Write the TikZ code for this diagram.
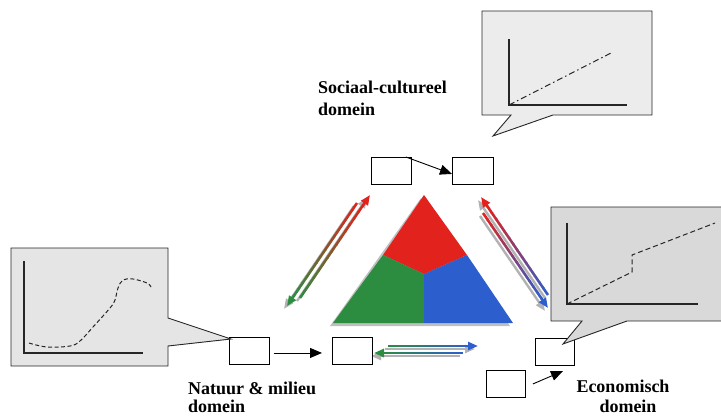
\documentclass[tikz,border=0pt]{standalone}
\usepackage{fontspec}
\setmainfont{Liberation Serif}
\usetikzlibrary{arrows.meta,calc}

\definecolor{trired}{RGB}{226,34,28}
\definecolor{trigreen}{RGB}{44,140,64}
\definecolor{triblue}{RGB}{44,94,206}
\definecolor{bubblelight}{gray}{0.925}
\definecolor{bubblemid}{gray}{0.90}
\definecolor{bubbledark}{gray}{0.85}

% arrow whose shaft fades from colour #3 to colour #4, with a grey drop shadow
\newcommand\gradarrow[4]{%
  \draw[shadowline] ($(#1)+(-3,3)$) -- ($(#2)+(-3,3)$);
  \foreach \k in {0,...,13}{%
    \pgfmathsetmacro\ta{0.9*\k/14}%
    \pgfmathsetmacro\tb{0.9*(\k+1)/14+0.005}%
    \pgfmathtruncatemacro\mixp{round(100*(\k+0.5)/14)}%
    \draw[line width=2.6pt, color=#4!\mixp!#3] ($(#1)!\ta!(#2)$) -- ($(#1)!\tb!(#2)$);
  }%
  \draw[line width=2.6pt, color=#4, -{Triangle[length=10pt,width=8pt]}] ($(#1)!0.895!(#2)$) -- (#2);
}

\tikzset{
  box/.style={draw=black, line width=0.9pt, fill=white, minimum width=40pt,
    minimum height=27pt, inner sep=0pt, anchor=north west},
  bubble/.style={draw=black!85, line width=0.9pt},
  axis/.style={draw=black!85, line width=1.1pt},
  curve/.style={draw=black!85, line width=1pt},
  lbl/.style={font=\fontsize{18}{22}\selectfont\bfseries, inner sep=0pt},
  blackarrow/.style={line width=0.9pt, -{Triangle[length=12pt,width=10pt]}},
  shadowline/.style={line width=2.4pt, color=black!30, -{Triangle[length=10pt,width=8pt]}},
}

\begin{document}
\begin{tikzpicture}[x=1pt, y=-1pt]
\useasboundingbox (0,0) rectangle (721,416);
\clip (0,0) rectangle (721,416);

% ---- central triangle ----
\fill[black!25] (421,198) -- (330,326) -- (510,326) -- cycle;
\coordinate (apex) at (424,195);
\coordinate (bl) at (333,323);
\coordinate (br) at (513,323);
\coordinate (mid) at (424,274);
\coordinate (ml) at (383,255);
\coordinate (mr) at (467,255);
\coordinate (mb) at (424,323);
\fill[trired] (apex) -- (mr) -- (mid) -- (ml) -- cycle;
\fill[trigreen] (ml) -- (mid) -- (mb) -- (bl) -- cycle;
\fill[triblue] (mid) -- (mr) -- (br) -- (mb) -- cycle;

% ---- coloured double arrows ----
\coordinate (la1) at (300,298); \coordinate (la2) at (370,195);
\coordinate (lb1) at (357,203); \coordinate (lb2) at (287,306);
\coordinate (ra1) at (548,295); \coordinate (ra2) at (481,197);
\coordinate (rb1) at (483,213); \coordinate (rb2) at (548,308);
\coordinate (ba1) at (388,346); \coordinate (ba2) at (478,346);
\coordinate (bb1) at (463,353); \coordinate (bb2) at (374,353);
\gradarrow{la1}{la2}{trigreen}{trired}
\gradarrow{lb1}{lb2}{trired}{trigreen}
\gradarrow{ra1}{ra2}{triblue}{trired}
\gradarrow{rb1}{rb2}{trired}{triblue}
\gradarrow{ba1}{ba2}{trigreen}{triblue}
\gradarrow{bb1}{bb2}{triblue}{trigreen}

% ---- boxes ----
\node[box] (bS1) at (371,157) {};
\node[box, minimum width=41pt] (bS2) at (452,157) {};
\node[box] (bN1) at (229,337) {};
\node[box] (bN2) at (332,337) {};
\node[box, minimum width=39pt] (bE1) at (535,338) {};
\node[box, minimum width=39pt] (bE2) at (486,370) {};

% ---- black arrows ----
\coordinate (s1) at ($(bS1.north east)+(-6,0)$);
\coordinate (s2) at ($(bS2.west)+(0,3)$);
\draw[blackarrow] (s1) -- (s2);
\coordinate (n1) at ($(bN1.east)+(4,2)$);
\coordinate (n2) at ($(bN2.west)+(-10,2)$);
\draw[blackarrow] (n1) -- (n2);
\coordinate (e1) at ($(bE2.east)+(7,0)$);
\coordinate (e2) at (563,371);
\draw[blackarrow] (e1) -- (e2);

% ---- speech bubble: social-cultural ----
\draw[bubble, fill=bubblelight] (482,11) -- (652,11) -- (652,115) -- (553,115)
  -- (493,136) -- (511,115) -- (482,115) -- cycle;
\draw[axis] (509,39) -- (509,105) -- (627,105);
\draw[curve, dash pattern=on 6pt off 3pt on 1.5pt off 3pt] (509,105) -- (613,52);

% ---- speech bubble: nature ----
\draw[bubble, fill=bubblemid] (11,248) -- (168,248) -- (168,318) -- (231,339)
  -- (168,346) -- (168,366) -- (11,366) -- cycle;
\draw[axis] (24,261) -- (24,353) -- (143,353);
\draw[curve, dash pattern=on 4pt off 2.5pt] plot[smooth, tension=0.6] coordinates
  {(29,343) (47,347) (70,346) (80,341) (93,327) (110,308) (115,300) (118,288)
   (123,280) (133,279) (147,283) (151,287)};

% ---- speech bubble: economic ----
\draw[bubble, fill=bubbledark] (730,207) -- (551,207) -- (551,321) -- (582,321)
  -- (563,344) -- (627,321) -- (730,321);
\draw[axis] (567,223) -- (567,304) -- (698,304);
\draw[curve, dash pattern=on 5pt off 3pt] (567,304) -- (632,272) -- (632,255) -- (715,223);

% ---- labels ----
\node[lbl, anchor=base west] (tS1) at (318,93) {Sociaal-cultureel};
\node[lbl, anchor=base west] (tS2) at (318,115) {domein};
\node[lbl, anchor=base west] (tN1) at (188,394) {Natuur \& milieu};
\node[lbl, anchor=base west] (tN2) at (188,412) {domein};
\node[lbl, anchor=base] (tE1) at (623,392) {Economisch};
\node[lbl, anchor=base] (tE2) at (628,412) {domein};
\end{tikzpicture}
\end{document}
